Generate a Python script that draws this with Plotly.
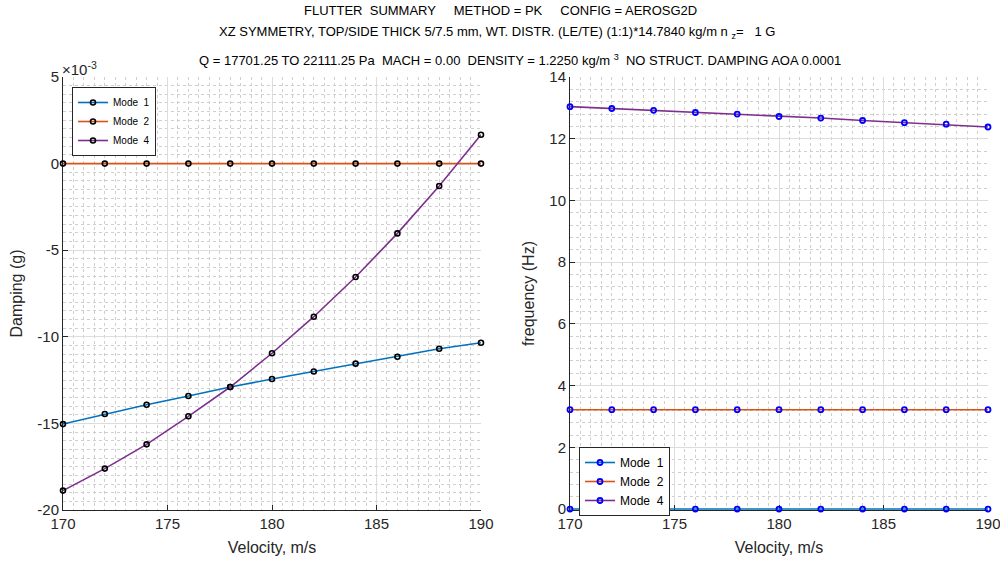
import plotly.graph_objects as go

velocity = [170, 172, 174, 176, 178, 180, 182, 184, 186, 188, 190]
mode_names = ["Mode  1", "Mode  2", "Mode  4"]
# damping in units of 1e-3
damp_mode1 = [-15.04, -14.46, -13.92, -13.42, -12.90, -12.44, -12.00, -11.55, -11.15, -10.69, -10.34]
damp_mode2 = [0, 0, 0, 0, 0, 0, 0, 0, 0, 0, 0]
damp_mode4 = [-18.88, -17.61, -16.21, -14.59, -12.90, -10.95, -8.84, -6.55, -4.03, -1.29, 1.67]
freq_mode1 = [0, 0, 0, 0, 0, 0, 0, 0, 0, 0, 0]
freq_mode2 = [3.22, 3.22, 3.22, 3.22, 3.22, 3.22, 3.22, 3.22, 3.22, 3.22, 3.22]
freq_mode4 = [13.04, 12.98, 12.92, 12.85, 12.80, 12.72, 12.67, 12.59, 12.52, 12.47, 12.38]
damp_ticks = [5, 0, -5, -10, -15, -20]
damp_ticklabels = ["5", "0", "-5", "-10", "-15", "-20"]

colors = ["#0072BD", "#D95319", "#7E2F8E"]
FONT = "Liberation Sans, Arial, sans-serif"
AX = "#262626"

fig = go.Figure()
for name, y, c in zip(mode_names, [damp_mode1, damp_mode2, damp_mode4], colors):
    fig.add_trace(go.Scatter(x=velocity, y=y, name=name, mode="lines+markers",
                             line=dict(color=c, width=1.6),
                             marker=dict(symbol="circle-open", size=5, color="black", line=dict(width=1.6)),
                             xaxis="x", yaxis="y", legend="legend", cliponaxis=False))
for name, y, c in zip(mode_names, [freq_mode1, freq_mode2, freq_mode4], colors):
    fig.add_trace(go.Scatter(x=velocity, y=y, name=name, mode="lines+markers",
                             line=dict(color=c, width=1.6),
                             marker=dict(symbol="circle-open", size=5, color="blue", line=dict(width=1.8)),
                             xaxis="x2", yaxis="y2", legend="legend2", cliponaxis=False))

def xax(domain, anchor):
    return dict(domain=domain, anchor=anchor, range=[170, 190], dtick=5, tick0=170,
                automargin=False, ticklabeloverflow="allow", layer="below traces",
                showline=True, linecolor=AX, linewidth=1, ticks="inside", ticklen=5, tickcolor=AX,
                tickfont=dict(size=15, color=AX, family=FONT), zeroline=False,
                showgrid=True, gridcolor="#dcdcdc", gridwidth=1,
                minor=dict(dtick=0.5, showgrid=True, gridcolor="#cfcfcf", griddash="dot", gridwidth=1),
                title=dict(text="Velocity, m/s", font=dict(size=16, color=AX, family=FONT), standoff=10))

def yax(domain, anchor, rng, minor, title, **kw):
    d = dict(domain=domain, anchor=anchor, range=rng, automargin=False,
             ticklabeloverflow="allow", layer="below traces",
             showline=True, linecolor=AX, linewidth=1, ticks="inside", ticklen=5, tickcolor=AX,
             tickfont=dict(size=15, color=AX, family=FONT), zeroline=False,
             showgrid=True, gridcolor="#dcdcdc", gridwidth=1,
             minor=dict(dtick=minor, showgrid=True, gridcolor="#cfcfcf", griddash="dot", gridwidth=1),
             title=dict(text=title, font=dict(size=16, color=AX, family=FONT), standoff=10))
    d.update(kw)
    return d

ydom = [1 - 510 / 565, 1 - 77 / 565]
fig.update_layout(
    width=1000, height=565, margin=dict(l=0, r=0, t=0, b=0),
    paper_bgcolor="white", plot_bgcolor="white",
    font=dict(family=FONT, color=AX),
    xaxis=xax([0.063, 0.481], "y"),
    yaxis=yax(ydom, "x", [-20, 5], 0.5, "Damping (g)", tickvals=damp_ticks, ticktext=damp_ticklabels),
    xaxis2=xax([0.570, 0.988], "y2"),
    yaxis2=yax(ydom, "x2", [-0.03, 14], 0.4, "frequency (Hz)", dtick=2, tick0=0),
    legend=dict(x=0.072, y=1 - 87 / 565, xanchor="left", yanchor="top", bgcolor="white",
                bordercolor=AX, borderwidth=1, font=dict(size=10, color="black", family=FONT),
                tracegroupgap=0, itemwidth=30),
    legend2=dict(x=0.579, y=1 - 447 / 565, xanchor="left", yanchor="top", bgcolor="white",
                 bordercolor=AX, borderwidth=1, font=dict(size=12, color="black", family=FONT),
                 tracegroupgap=0, itemwidth=30),
    showlegend=True,
)

ann = [
    ("FLUTTER  SUMMARY     METHOD = PK     CONFIG = AEROSG2D", 500, 11),
    ("XZ SYMMETRY, TOP/SIDE THICK 5/7.5 mm, WT. DISTR. (LE/TE) (1:1)*14.7840 kg/m n <sub>z</sub>=   1 G", 497, 33),
    ("Q = 17701.25 TO 22111.25 Pa  MACH = 0.00  DENSITY = 1.2250 kg/m <sup>3</sup>  NO STRUCT. DAMPING AOA 0.0001", 520, 60),
]
for text, x, y in ann:
    fig.add_annotation(text=text, x=x / 1000, y=1 - y / 565, xref="paper", yref="paper",
                       showarrow=False, xanchor="center", yanchor="middle",
                       font=dict(size=13, color="black", family=FONT))
fig.add_annotation(text="×10<sup>-3</sup>", x=0.060, y=1 - 68 / 565, xref="paper", yref="paper",
                   showarrow=False, xanchor="left", yanchor="middle",
                   font=dict(size=15, color=AX, family=FONT))

fig.write_html("out.html")
